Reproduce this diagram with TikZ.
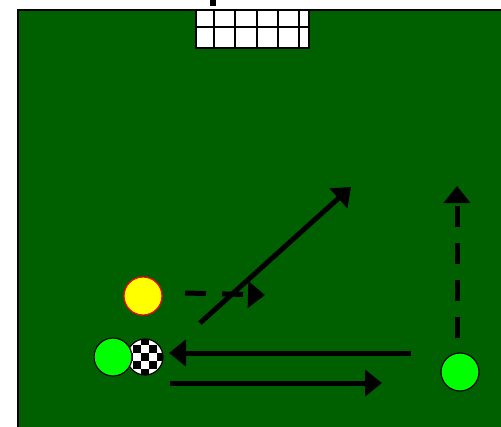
\documentclass[tikz,border=0pt]{standalone}
\usetikzlibrary{arrows.meta}
\definecolor{pitch}{RGB}{0,96,0}
\definecolor{playergreen}{RGB}{0,255,0}
\definecolor{playeryellow}{RGB}{255,255,0}
\definecolor{playerred}{RGB}{255,0,0}
\tikzset{
  run/.style={line width=5pt, -{Triangle[length=17pt,width=26pt]}},
  dribble/.style={run, dash pattern=on 21pt off 16pt},
  player/.style={circle, draw=black, line width=1.2pt, minimum size=38pt, inner sep=0pt},
}
\begin{document}
\begin{tikzpicture}[x=1pt,y=-1pt]
\useasboundingbox (0,0) rectangle (501,426);
% pitch
\fill[pitch] (18,10) rectangle (503,428);
\draw[black, line width=1.6pt] (18,428) -- (18,10) -- (503,10);
% small mark above goal
\fill[black] (210,0) rectangle (216,6);
% goal
\fill[white] (196,10) rectangle (309,48);
\draw[black, line width=1.4pt] (196,10) rectangle (309,48);
\foreach \x in {214,235,257,278,299} \draw[black, line width=1.4pt] (\x,10) -- (\x,48);
\draw[black, line width=1.4pt] (196,27) -- (309,27);
% ball
\node[circle, minimum size=36pt, inner sep=0pt] (ball) at (145,357) {};
\begin{scope}
  \clip (145,357) circle (18);
  \fill[white] (126,338) rectangle (164,376);
  \foreach \i in {0,...,5}
    \foreach \j in {0,...,5} {
      \pgfmathtruncatemacro{\p}{mod(\i+\j,2)}
      \ifnum\p=0
        \fill[black] (125+8*\i,337+8*\j) rectangle ++(8,8);
      \fi
    }
\end{scope}
\draw[black, line width=1.2pt] (145,357) circle (18);
% players
\node[player, fill=playeryellow, draw=playerred] (yellow) at (143,296) {};
\node[player, fill=playergreen] (green1) at (113,357) {};
\node[player, fill=playergreen] (green2) at (460,372) {};
% arrow coordinates
\coordinate (d1s) at (185,293);
\coordinate (d1e) at (265,295);
\coordinate (diags) at (200,323);
\coordinate (diage) at (351,187);
\coordinate (ls) at (411,353);
\coordinate (le) at (169,353);
\coordinate (rs) at (170,383);
\coordinate (re) at (382,383);
\coordinate (vs) at (457,338);
\coordinate (ve) at (457,186);
% arrows
\draw[dribble] (d1s) -- (d1e);
\draw[run] (diags) -- (diage);
\draw[run] (ls) -- (le);
\draw[run] (rs) -- (re);
\draw[dribble] (vs) -- (ve);
\end{tikzpicture}
\end{document}
